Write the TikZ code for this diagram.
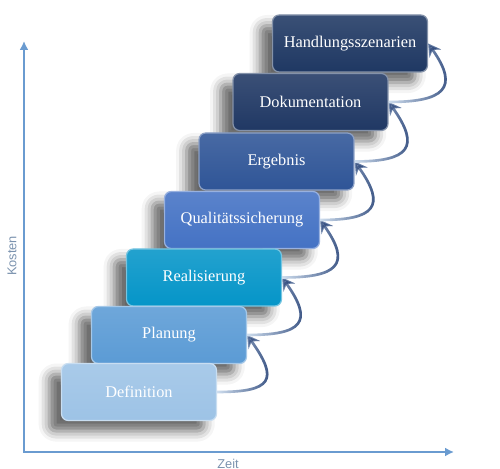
\documentclass[tikz,border=0pt]{standalone}
\usepackage{fontspec}
\setmainfont{Liberation Serif}
\setsansfont{Liberation Sans}
\usetikzlibrary{arrows.meta,shadows.blur,fadings}

\definecolor{cDef}{HTML}{9DC3E6}
\definecolor{cPlan}{HTML}{5B9BD5}
\definecolor{cReal}{HTML}{0595C8}
\definecolor{cQual}{HTML}{4472C4}
\definecolor{cErg}{HTML}{2F5597}
\definecolor{cDok}{HTML}{203864}
\definecolor{cHand}{HTML}{1F3863}
\definecolor{cAxis}{HTML}{6A9BD0}
\definecolor{cLabel}{HTML}{7A92AE}
\definecolor{cArcLight}{HTML}{D2E1F1}
\definecolor{cArcDark}{HTML}{1F3A70}

\tikzfading[name=bogenfade, left color=transparent!100, right color=transparent!0]

\begin{document}
\begin{tikzpicture}[
  x=0.02cm, y=0.02cm,
  stufe/.style={draw=#1!55!white, line width=0.7pt,
    top color=#1!88!white, bottom color=#1,
    rounded corners=3.8pt, minimum width=3.1cm, minimum height=1.14cm,
    text=white, font=\fontsize{9.3}{11}\selectfont,
    blur shadow={shadow xshift=-7pt, shadow yshift=-6pt,
      shadow blur radius=6pt, shadow opacity=60}},
  achse/.style={draw=cAxis, line width=1.1pt,
    {Latex[length=5pt,width=5pt]}-{Latex[length=5pt,width=5pt]}},
  bogen/.style={line width=1.5pt, draw=cArcLight,
    -{Stealth[length=7pt,width=8pt,inset=2.5pt]},
    postaction={draw=cArcDark, path fading=bogenfade}},
  beschr/.style={font=\sffamily\fontsize{7.3}{8}\selectfont, text=cLabel, inner sep=0pt}
]
  \useasboundingbox (0,0) rectangle (500,469);

  \coordinate (O) at (24,17);
  \coordinate (ymax) at (24,428);
  \coordinate (xmax) at (454,17);
  \draw[achse] (ymax) -- (O) -- (xmax);
  \node[beschr,rotate=90] (kosten) at (12,213) {Kosten};
  \node[beschr,anchor=north] (zeit) at (228,10) {Zeit};

  \node[stufe=cHand] (hand) at (350,425.5) {Handlungsszenarien};
  \node[stufe=cDok] (dok) at (310.5,367) {Dokumentation};
  \node[stufe=cErg] (erg) at (276.5,307.5) {Ergebnis};
  \node[stufe=cQual] (qual) at (242,249) {Qualitätssicherung};
  \node[stufe=cReal] (real) at (204,191.5) {Realisierung};
  \node[stufe=cPlan] (plan) at (169,134) {Planung};
  \node[stufe=cDef] (def) at (139,77) {Definition};

  \draw[bogen] (def.east) .. controls +(55,0) and +(32,-45) .. (plan.east);
  \draw[bogen] (plan.east) .. controls +(55,0) and +(32,-45) .. (real.east);
  \draw[bogen] (real.east) .. controls +(55,0) and +(32,-45) .. (qual.east);
  \draw[bogen] (qual.east) .. controls +(55,0) and +(32,-45) .. (erg.east);
  \draw[bogen] (erg.east) .. controls +(55,0) and +(32,-45) .. (dok.east);
  \draw[bogen] (dok.east) .. controls +(55,0) and +(32,-45) .. (hand.east);
\end{tikzpicture}
\end{document}
